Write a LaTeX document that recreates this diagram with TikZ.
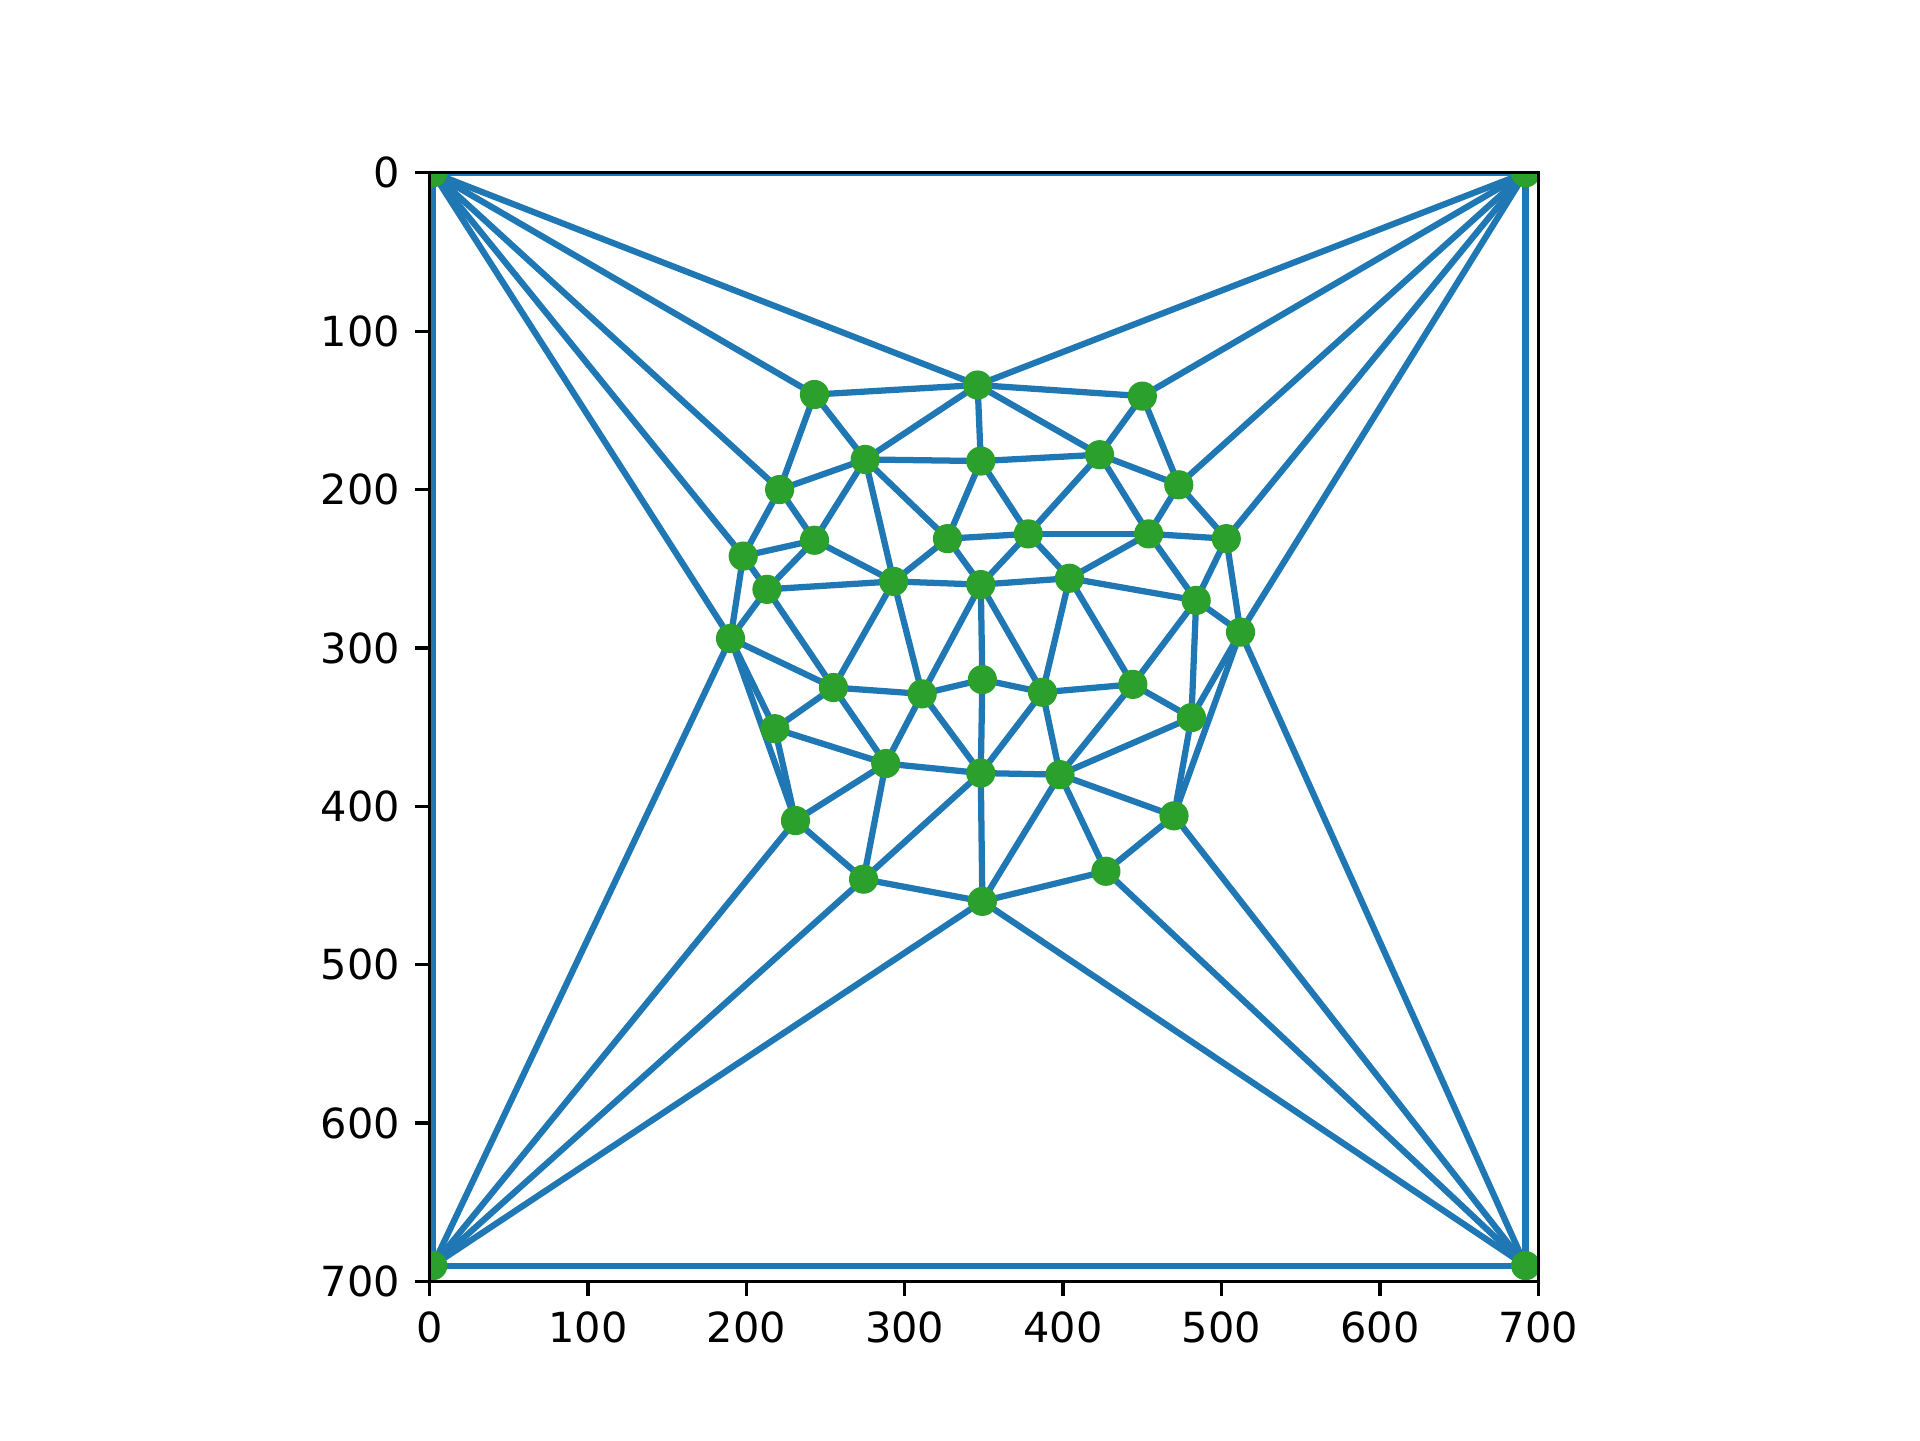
\documentclass[tikz,border=0pt]{standalone}
\usepackage{fontspec}
\setmainfont{DejaVu Sans}
\definecolor{mblue}{HTML}{1F77B4}
\definecolor{mgreen}{HTML}{2CA02C}
\begin{document}
\begin{tikzpicture}[
  tri/.style={draw=mblue, line width=1.78pt, line cap=rect},
  mdot/.style={circle, fill=mgreen, inner sep=0pt, minimum size=8.3pt},
  spine/.style={line width=0.95pt, black},
  tk/.style={line width=0.95pt, black},
  lbl/.style={font=\fontsize{11.8}{14}\selectfont, inner sep=0pt}
]
\useasboundingbox (0,0) rectangle (19.2,14.4);
\begin{scope}[shift={(4.296,12.672)}, x=0.01584cm, y=-0.01584cm]
 \begin{scope}
 \clip (0,0) rectangle (700,700);
 \coordinate (TL) at (2,0);   \coordinate (TR) at (692,0);
 \coordinate (BL) at (2,690); \coordinate (BR) at (692,690);
 \coordinate (a1) at (243,140); \coordinate (a2) at (346,134); \coordinate (a3) at (450,141);
 \coordinate (b1) at (275,181); \coordinate (b2) at (348,182); \coordinate (b3) at (423,178);
 \coordinate (c1) at (221,200); \coordinate (c2) at (473,197);
 \coordinate (d1) at (243,232); \coordinate (d2) at (327,231); \coordinate (d3) at (378,228);
 \coordinate (d4) at (454,228); \coordinate (d5) at (503,231);
 \coordinate (e1) at (198,242); \coordinate (e2) at (213,263); \coordinate (e3) at (293,258);
 \coordinate (e4) at (348,260); \coordinate (e5) at (404,256); \coordinate (e6) at (484,270);
 \coordinate (e7) at (512,290);
 \coordinate (f1) at (190,294);
 \coordinate (g1) at (255,325); \coordinate (g2) at (311,329); \coordinate (g3) at (349,320);
 \coordinate (g4) at (387,328); \coordinate (g5) at (444,323);
 \coordinate (h1) at (218,351); \coordinate (h2) at (481,344);
 \coordinate (i1) at (288,373); \coordinate (i2) at (348,379); \coordinate (i3) at (398,380);
 \coordinate (j1) at (231,409); \coordinate (j2) at (470,406);
 \coordinate (k1) at (274,446); \coordinate (k2) at (427,441);
 \coordinate (l1) at (349,460);
 \foreach \p/\q in {TL/TR, TR/BR, BR/BL, BL/TL,
   TL/a1, TL/a2, TL/c1, TL/e1, TL/f1,
   TR/a2, TR/a3, TR/c2, TR/d5, TR/e7,
   BL/f1, BL/j1, BL/k1, BL/l1,
   BR/l1, BR/k2, BR/j2, BR/e7,
   a1/a2, a1/b1, a1/c1,
   a2/b1, a2/b2, a2/a3, a2/b3,
   a3/b3, a3/c2,
   b1/b2, b1/c1, b1/d1, b1/e3, b1/d2,
   b2/d2, b2/d3, b2/b3,
   b3/c2, b3/d3, b3/d4,
   c1/d1, c1/e1,
   c2/d4, c2/d5,
   d1/e1, d1/e3, d1/e2,
   d2/d3, d2/e3, d2/e4,
   d3/d4, d3/e4, d3/e5,
   d4/e5, d4/d5, d4/e6,
   d5/e6, d5/e7,
   e1/e2, e1/f1,
   e2/e3, e2/f1, e2/g1,
   e3/e4, e3/g1, e3/g2,
   e4/g2, e4/g3, e4/g4, e4/e5,
   e5/e6, e5/g4, e5/g5,
   e6/e7, e6/g5, e6/h2,
   e7/h2, e7/j2,
   f1/g1, f1/h1, f1/j1,
   g1/h1, g1/i1, g1/g2,
   g2/i1, g2/i2, g2/g3,
   g3/i2, g3/g4,
   g4/g5, g4/i2, g4/i3,
   g5/h2, g5/i3,
   h1/j1, h1/i1,
   h2/i3, h2/j2,
   i1/i2, i1/j1, i1/k1,
   i2/i3, i2/k1, i2/l1,
   i3/j2, i3/k2, i3/l1,
   j1/k1, j2/k2, k1/l1, k2/l1}
   \draw[tri] (\p) -- (\q);
 \foreach \n in {TL,TR,BL,BR,a1,a2,a3,b1,b2,b3,c1,c2,d1,d2,d3,d4,d5,
   e1,e2,e3,e4,e5,e6,e7,f1,g1,g2,g3,g4,g5,h1,h2,i1,i2,i3,j1,j2,k1,k2,l1}
   \node[mdot] (n\n) at (\n) {};
 \end{scope}
 \draw[spine] (0,0) rectangle (700,700);
 \foreach \v in {0,100,...,700} {
   \draw[tk] (\v,700) -- ++(0pt,-4.14pt);
   \node[lbl, anchor=north] (xl\v) at ([yshift=-8.28pt]\v,700) {\v};
   \draw[tk] (0,\v) -- ++(-4.14pt,0pt);
   \node[lbl, anchor=east] (yl\v) at ([xshift=-8.28pt]0,\v) {\v};
 }
\end{scope}
\end{tikzpicture}
\end{document}
